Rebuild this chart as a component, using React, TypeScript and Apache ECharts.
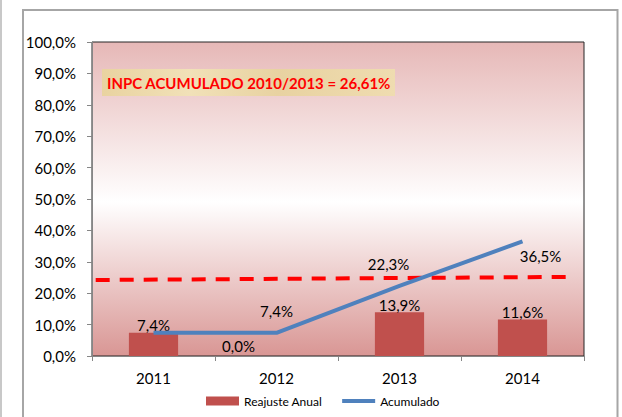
import React, { useEffect, useRef } from "react";
import * as echarts from "echarts";

const categories = ["2011", "2012", "2013", "2014"];
const reajusteAnual = [7.4, 0.0, 13.9, 11.6];
const acumulado = [7.4, 7.4, 22.3, 36.5];
const inpcLine = [
  [0.03, 24.2],
  [3.89, 25.2],
];
const noteText = "INPC ACUMULADO 2010/2013 = 26,61%";
const seriesNames = ["Reajuste Anual", "Acumulado"];

const fmt = (v: number) => v.toFixed(1).replace(".", ",") + "%";
const FONT = "Lato, 'Open Sans', sans-serif";

export default function App() {
  const ref = useRef<HTMLDivElement>(null);
  useEffect(() => {
    document.body.style.margin = "0";
    if (!ref.current) return;
    const chart = echarts.init(ref.current, undefined, { renderer: "svg" });
    const lineLabelOffsets: any[] = [null, [0, -22], [-11, -22], [18, 15]];
    chart.setOption({
      animation: false,
      textStyle: { fontFamily: FONT },
      grid: {
        left: 92,
        right: 38,
        top: 42,
        bottom: 61,
        show: true,
        borderColor: "#262626",
        borderWidth: 1,
        backgroundColor: new echarts.graphic.LinearGradient(0, 0, 0, 1, [
          { offset: 0, color: "#e6b8b7" },
          { offset: 0.51, color: "#ffffff" },
          { offset: 1, color: "#d99694" },
        ]),
      },
      xAxis: [
        {
          type: "category",
          data: categories,
          axisLine: { lineStyle: { color: "#868686" } },
          axisTick: { show: true, length: 5, lineStyle: { color: "#868686" } },
          axisLabel: { color: "#000", fontSize: 15, margin: 14, fontFamily: FONT },
        },
        { type: "value", min: 0, max: 4, show: false },
      ],
      yAxis: {
        type: "value",
        min: 0,
        max: 100,
        interval: 10,
        splitLine: { show: false },
        axisLine: { show: true, lineStyle: { color: "#868686" } },
        axisTick: { show: true, length: 5, lineStyle: { color: "#868686" } },
        axisLabel: {
          color: "#000",
          fontSize: 15,
          margin: 16,
          fontFamily: FONT,
          formatter: (v: number) => fmt(v),
        },
      },
      legend: {
        left: 201,
        top: 390,
        itemWidth: 33,
        itemHeight: 9,
        itemGap: 18,
        textStyle: { color: "#000", fontSize: 12, fontFamily: FONT },
        data: [
          { name: seriesNames[0], icon: "rect" },
          {
            name: seriesNames[1],
            itemStyle: { opacity: 0 },
            lineStyle: { width: 4, color: "#4f81bd" },
          },
        ],
      },
      series: [
        {
          name: seriesNames[0],
          type: "bar",
          barWidth: "40%",
          itemStyle: { color: "#c0504d" },
          data: reajusteAnual.map((v, i) => ({
            value: v,
            label: i === 1 ? { offset: [-38, -3] } : undefined,
          })),
          label: {
            show: true,
            position: "top",
            distance: 0,
            color: "#000",
            fontSize: 15,
            fontFamily: FONT,
            formatter: (p: any) => fmt(p.value),
          },
          z: 2,
        },
        {
          name: seriesNames[1],
          type: "line",
          symbol: "circle",
          symbolSize: 1,
          showSymbol: true,
          lineStyle: { color: "#4f81bd", width: 4 },
          itemStyle: { color: "rgba(79,129,189,0)" },
          data: acumulado.map((v, i) => ({
            value: v,
            label: lineLabelOffsets[i]
              ? { show: true, offset: lineLabelOffsets[i] }
              : { show: false },
          })),
          label: {
            position: "inside",
            color: "#000",
            opacity: 1,
            fontSize: 15,
            fontFamily: FONT,
            formatter: (p: any) => fmt(p.value),
          },
          z: 4,
        },
        {
          name: "INPC",
          type: "line",
          xAxisIndex: 1,
          symbol: "none",
          lineStyle: { color: "#ff0000", width: 4, type: [14, 10] },
          data: inpcLine,
          z: 3,
        },
      ],
      graphic: [
        {
          type: "rect",
          shape: { x: 23, y: 10, width: 594.5, height: 420 },
          style: { fill: "none", stroke: "#a6a6a6", lineWidth: 2 },
          silent: true,
        },
        {
          type: "line",
          shape: { x1: 1, y1: 0, x2: 1, y2: 417 },
          style: { stroke: "#c8c8c8", lineWidth: 2 },
          silent: true,
        },
        {
          type: "rect",
          shape: { x: 102, y: 69, width: 293, height: 27 },
          style: {
            fill: new echarts.graphic.LinearGradient(0, 0, 1, 0, [
              { offset: 0, color: "#e9d3a0" },
              { offset: 0.3, color: "#f1e1b8" },
              { offset: 0.6, color: "#e8d2a1" },
              { offset: 1, color: "#efdcb0" },
            ]),
          },
          z: 10,
        },
        {
          type: "text",
          x: 107,
          y: 83,
          style: {
            text: noteText,
            fill: "#ff0000",
            font: `bold 15px ${FONT}`,
            verticalAlign: "middle",
          },
          z: 11,
        },
      ],
    });
    return () => chart.dispose();
  }, []);
  return <div ref={ref} style={{ width: 622, height: 417 }} />;
}
